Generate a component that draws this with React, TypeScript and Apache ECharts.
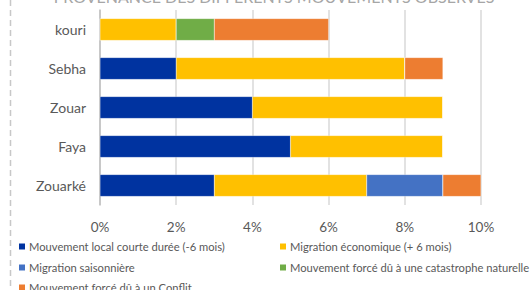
import React, { useEffect, useRef } from "react";
import * as echarts from "echarts";

const categories = ["kouri", "Sebha", "Zouar", "Faya", "Zouarké"];
const seriesNames = [
  "Mouvement local courte durée (-6 mois)",
  "Migration économique (+ 6 mois)",
  "Migration saisonnière",
  "Mouvement forcé dû à une catastrophe naturelle",
  "Mouvement forcé dû à un Conflit",
];
const localCourt = [0, 2, 4, 5, 3];
const economique = [2, 6, 5, 4, 4];
const saisonniere = [0, 0, 0, 0, 2];
const catastrophe = [1, 0, 0, 0, 0];
const conflit = [3, 1, 0, 0, 1];
const colors = ["#0033A0", "#FFC000", "#4472C4", "#70AD47", "#ED7D31"];
const xTicks = { min: 0, max: 10, interval: 2 };

export default function App() {
  const ref = useRef<HTMLDivElement>(null);
  useEffect(() => {
    const chart = echarts.init(ref.current!, null, { renderer: "svg" });
    const values = [localCourt, economique, saisonniere, catastrophe, conflit];
    const font = "Lato, sans-serif";
    const legendPos = [
      { left: 17, top: 241 },
      { left: 278, top: 241 },
      { left: 17, top: 262 },
      { left: 278, top: 262 },
      { left: 17, top: 282 },
    ];
    chart.setOption({
      animation: false,
      backgroundColor: "#ffffff",
      textStyle: { fontFamily: font },
      graphic: [
        {
          type: "line",
          shape: { x1: 10.5, y1: 0, x2: 10.5, y2: 290 },
          style: { stroke: "#c8c8c8", lineWidth: 1.5, lineDash: [6, 4] },
        },
        {
          type: "text",
          x: 274,
          y: 4,
          style: {
            text: "PROVENANCE DES DIFFERENTS MOUVEMENTS OBSERVES",
            fontSize: 16,
            fill: "#a6a6a6",
            fontFamily: font,
            align: "center",
            verticalAlign: "bottom",
          },
        },
      ],
      legend: seriesNames.map((n, i) => ({
        data: [n],
        left: legendPos[i].left,
        top: legendPos[i].top,
        itemWidth: 8,
        itemHeight: 8,
        itemGap: 4,
        icon: "rect",
        padding: 0,
        textStyle: { fontSize: 11.2, color: "#595959", fontFamily: font, padding: [0, 0, 0, -2] },
      })),
      grid: { left: 100, right: 50, top: 10, bottom: 85, containLabel: false },
      xAxis: {
        type: "value",
        min: xTicks.min,
        max: xTicks.max,
        interval: xTicks.interval,
        axisLabel: { formatter: "{value}%", color: "#595959", fontSize: 13.5, margin: 15, fontFamily: font },
        axisLine: { show: false },
        axisTick: { show: false },
        splitLine: { lineStyle: { color: "#d9d9d9", width: 1.5 } },
      },
      yAxis: {
        type: "category",
        data: categories,
        inverse: true,
        axisLine: { lineStyle: { color: "#bfbfbf", width: 1.5 } },
        axisTick: { show: false },
        axisLabel: { color: "#595959", fontSize: 14, margin: 14, fontFamily: font },
      },
      series: seriesNames.map((n, i) => ({
        name: n,
        type: "bar",
        stack: "total",
        barWidth: 22,
        data: values[i],
        itemStyle: { color: colors[i], borderColor: "#ffffff", borderWidth: 0.3 },
      })),
    });
    return () => chart.dispose();
  }, []);
  return <div ref={ref} style={{ width: 531, height: 290, position: "absolute", left: 0, top: 0 }} />;
}
